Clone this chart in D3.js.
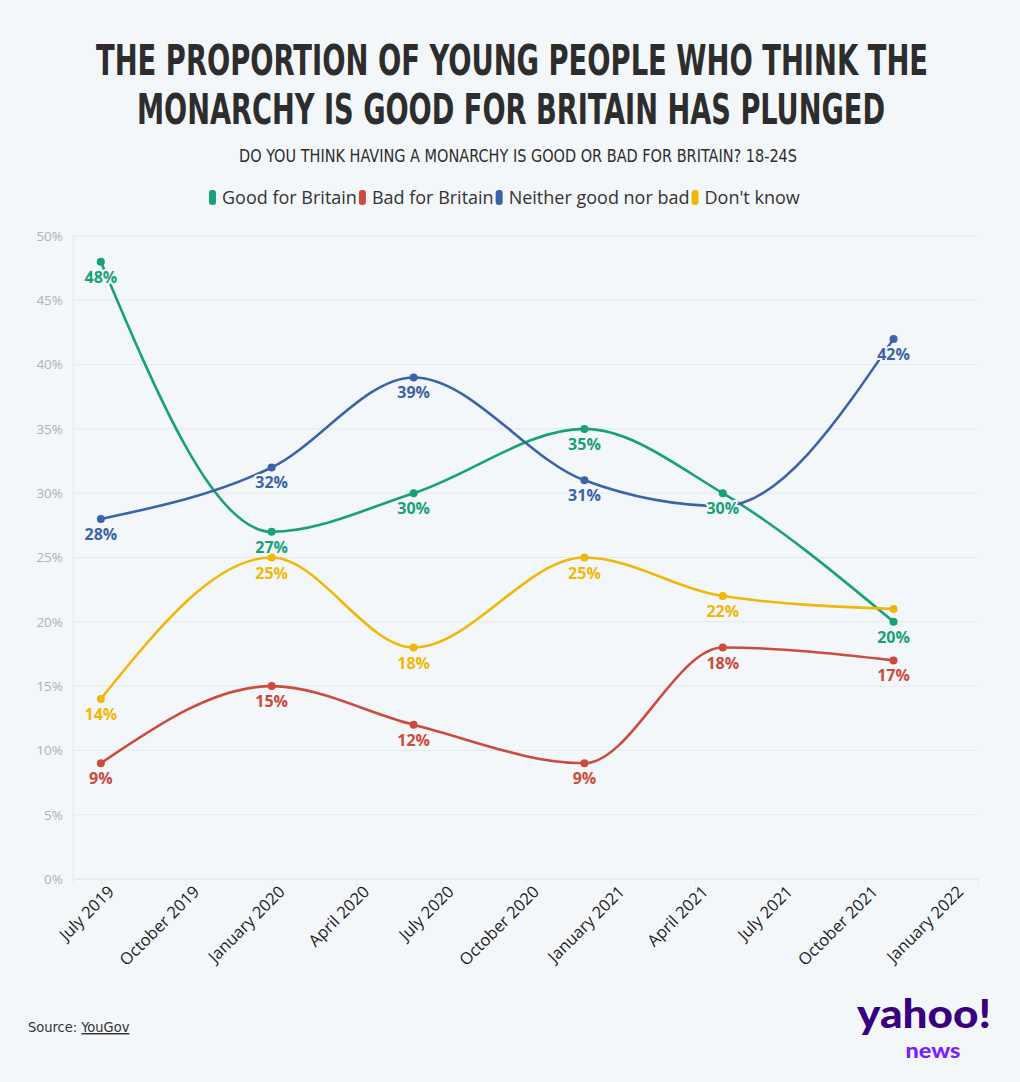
<!DOCTYPE html>
<html><head><meta charset="utf-8">
<script src="https://cdn.jsdelivr.net/npm/d3@7"></script>
<style>
html,body{margin:0;padding:0;background:#f3f7fa;}
svg{display:block;}
</style></head>
<body>
<script>
// ---- data ----
const dates = ["2019-07-01","2020-01-01","2020-06-02","2020-12-03","2021-05-01","2021-11-01"];
const seriesNames = ["Good for Britain","Bad for Britain","Neither good nor bad","Don't know"];
const seriesColors = ["#17a178","#cc4b3c","#3b64a8","#f1b707"];
const goodForBritain = [48,27,30,35,30,20];
const badForBritain = [9,15,12,9,18,17];
const neitherGoodNorBad = [28,32,39,31,29,42];
const dontKnow = [14,25,18,25,22,21];
// which point labels are shown (hidden where they would overlap)
const showGood = [1,1,1,1,1,1];
const showBad = [1,1,1,1,1,1];
const showNeither = [1,1,1,1,0,1];
const showDontKnow = [1,1,1,1,1,0];
const yTicks = [0,5,10,15,20,25,30,35,40,45,50];
const xTickDates = ["2019-07-01","2019-10-01","2020-01-01","2020-04-01","2020-07-01","2020-10-01","2021-01-01","2021-04-01","2021-07-01","2021-10-01","2022-01-01"];
const xDomain = ["2019-06-01","2022-01-31"];

const W=1020,H=1082,BG="#f3f7fa";
const parse=d3.utcParse("%Y-%m-%d");
const svg=d3.select("body").append("svg").attr("width",W).attr("height",H);
svg.append("rect").attr("width",W).attr("height",H).attr("fill",BG);

// title
const tFont="'Liberation Sans Narrow','DejaVu Sans Condensed',sans-serif";
function titleLine(txt,cx,baseY,len){
  svg.append("g").attr("transform",`translate(${cx},${baseY}) scale(1,1.4)`)
    .append("text").attr("x",0).attr("y",0).attr("text-anchor","middle")
    .attr("font-family",tFont).attr("font-weight",700).attr("font-size",31).attr("fill","#2d2d2d")
    .attr("textLength",len).attr("lengthAdjust","spacingAndGlyphs").text(txt);
}
titleLine("THE PROPORTION OF YOUNG PEOPLE WHO THINK THE",512,75,832);
titleLine("MONARCHY IS GOOD FOR BRITAIN HAS PLUNGED",511,124,748);
svg.append("text").attr("x",518).attr("y",162).attr("text-anchor","middle")
  .attr("font-family",tFont).attr("font-size",18).attr("fill","#2d2d2d")
  .attr("textLength",558).attr("lengthAdjust","spacingAndGlyphs")
  .text("DO YOU THINK HAVING A MONARCHY IS GOOD OR BAD FOR BRITAIN? 18-24S");

// legend
const lg=svg.append("g");
let lx=209;
seriesNames.forEach((n,i)=>{
  lg.append("rect").attr("x",lx).attr("y",190).attr("width",7).attr("height",15).attr("rx",3)
    .attr("fill",seriesColors[i]);
  const t=lg.append("text").attr("x",lx+13).attr("y",204).attr("font-family","'Open Sans',sans-serif")
    .attr("font-size",18).attr("fill","#333").text(n);
  lx+=13+t.node().getComputedTextLength()+2;
});

// scales
const m={l:73,r:978,t:236,b:879};
const x=d3.scaleUtc().domain(xDomain.map(parse)).range([m.l,m.r]);
const y=d3.scaleLinear().domain([0,50]).range([m.b,m.t]);

// grid
const g=svg.append("g");
g.selectAll(".gl").data(yTicks).join("line").attr("x1",m.l).attr("x2",m.r)
  .attr("y1",d=>y(d)).attr("y2",d=>y(d)).attr("stroke","#e4e9ef").attr("stroke-width",1);
g.append("line").attr("x1",m.l).attr("x2",m.l).attr("y1",m.t).attr("y2",m.b).attr("stroke","#e4e9ef");
// y axis labels
const yAxis=d3.axisLeft(y).tickValues(yTicks).tickFormat(d=>d+"%").tickSize(0).tickPadding(10);
const ya=svg.append("g").attr("transform",`translate(${m.l},0)`).call(yAxis);
ya.select(".domain").remove();
ya.selectAll("text").attr("font-family","'Open Sans',sans-serif").attr("font-size",13.5).attr("fill","#adb2b8");
// x axis
const xAxis=d3.axisBottom(x).tickValues(xTickDates.map(parse)).tickFormat(d3.utcFormat("%B %Y")).tickSize(6).tickPadding(2);
const xa=svg.append("g").attr("transform",`translate(0,${m.b})`).call(xAxis);
xa.select(".domain").attr("stroke","#e4e9ef");
xa.selectAll(".tick line").attr("stroke","#e4e9ef");
xa.selectAll("text").attr("font-family","'Open Sans',sans-serif").attr("font-size",16.5).attr("fill","#222")
  .attr("text-anchor","end").attr("transform","translate(4,4) rotate(-45)").attr("dy","0.35em").attr("dx","0");

// lines
const allSeries=[goodForBritain,badForBritain,neitherGoodNorBad,dontKnow];
const shows=[showGood,showBad,showNeither,showDontKnow];
const line=d3.line().x(d=>x(d.date)).y(d=>y(d.v)).curve(d3.curveMonotoneX);
const lineG=svg.append("g"), ptG=svg.append("g"), labG=svg.append("g");
allSeries.forEach((vals,i)=>{
  const pts=vals.map((v,j)=>({date:parse(dates[j]),v,show:shows[i][j]}));
  lineG.append("path").datum(pts).attr("d",line).attr("fill","none")
    .attr("stroke",seriesColors[i]).attr("stroke-width",2.6);
  ptG.selectAll(null).data(pts).join("circle").attr("cx",d=>x(d.date)).attr("cy",d=>y(d.v))
    .attr("r",4).attr("fill",seriesColors[i]);
  labG.selectAll(null).data(pts.filter(d=>d.show)).join("text")
    .attr("x",d=>x(d.date)).attr("y",d=>y(d.v)+21).attr("text-anchor","middle")
    .attr("font-family","'Open Sans',sans-serif").attr("font-weight",700).attr("font-size",16)
    .attr("fill",seriesColors[i]).attr("stroke",BG).attr("stroke-width",4).attr("paint-order","stroke")
    .attr("stroke-linejoin","round")
    .text(d=>d.v+"%");
});

// source
const src=svg.append("text").attr("x",28).attr("y",1032).attr("font-family",tFont).attr("font-size",14.5).attr("fill","#333");
src.append("tspan").text("Source: ");
src.append("tspan").attr("text-decoration","underline").text("YouGov");

// logo
svg.append("text").attr("x",924).attr("y",1028).attr("text-anchor","middle")
  .attr("font-family","Lato,sans-serif").attr("font-weight",900).attr("font-size",40).attr("fill","#39007d")
  .attr("textLength",134).attr("lengthAdjust","spacingAndGlyphs").text("yahoo!");
svg.append("text").attr("x",933).attr("y",1058).attr("text-anchor","middle")
  .attr("font-family","Lato,sans-serif").attr("font-weight",900).attr("font-size",20).attr("fill","#7e1fff")
  .attr("textLength",55).attr("lengthAdjust","spacingAndGlyphs").text("news");
</script>
</body></html>
